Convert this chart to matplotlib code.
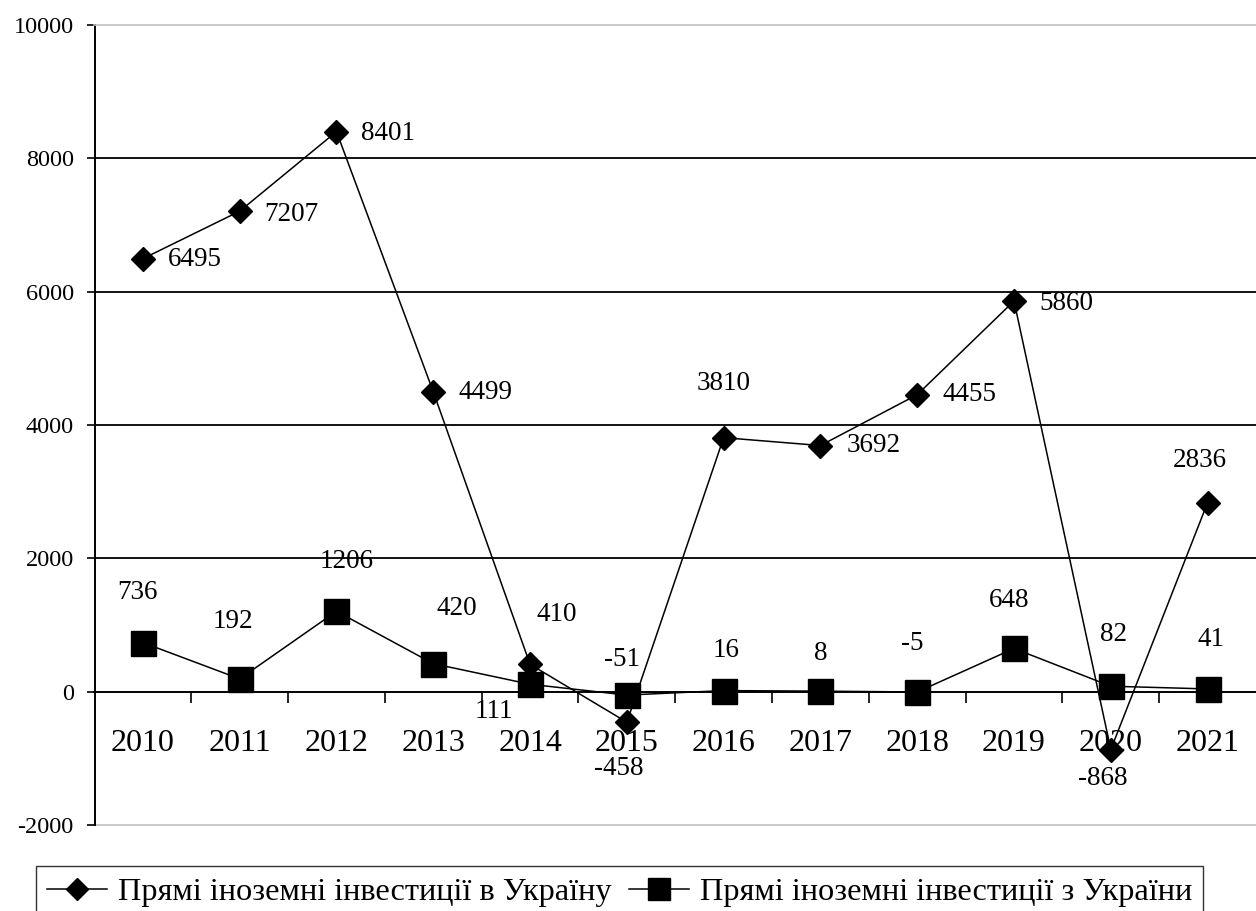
import numpy as np
import matplotlib
matplotlib.use("Agg")
import matplotlib.pyplot as plt
from matplotlib.lines import Line2D

# Data: foreign direct investment flows, USD mln
years = ["2010", "2011", "2012", "2013", "2014", "2015",
         "2016", "2017", "2018", "2019", "2020", "2021"]
fdi_in = [6495, 7207, 8401, 4499, 410, -458, 3810, 3692, 4455, 5860, -868, 2836]
fdi_out = [736, 192, 1206, 420, 111, -51, 16, 8, -5, 648, 82, 41]
y_ticks = [-2000, 0, 2000, 4000, 6000, 8000, 10000]
series_names = ["Прямі іноземні інвестиції в Україну",
                "Прямі іноземні інвестиції з України"]

# Value-label placement: (horizontal alignment, dx px, dy px; dy positive = down)
in_label_pos = [("left", 25, 1), ("left", 25, 3), ("left", 25, 2), ("left", 25, 1),
                ("center", 27, -50), ("center", -8, 46), ("center", 0, -54),
                ("left", 26, 0), ("left", 25, 0), ("left", 25, 2),
                ("center", -8, 29), ("center", -8, -42)]
out_label_pos = [("center", -5, -50), ("center", -7, -57), ("center", 10, -50),
                 ("center", 24, -55), ("center", -36, 27), ("center", -5, -36),
                 ("center", 2, -40), ("center", 0, -38), ("center", -5, -48),
                 ("center", -5, -48), ("center", 3, -52), ("center", 3, -49)]

plt.rcParams['font.family'] = ['Liberation Serif', 'DejaVu Serif']

W, H = 1256, 911
fig = plt.figure(figsize=(W / 100, H / 100), dpi=100)
left, right, top, bottom = 94.5, 1256, 25, 825
ax = fig.add_axes([left / W, 1 - bottom / H, (right - left) / W, (bottom - top) / H])

x = np.arange(len(years))
ax.set_xlim(-0.5, len(years) - 0.5)
ax.set_ylim(y_ticks[0], y_ticks[-1])

# horizontal gridlines
for v in y_ticks:
    if v not in (y_ticks[0], y_ticks[-1], 0):
        ax.axhline(v, color="black", lw=1.3, zorder=1)
ax.axhline(y_ticks[0], color="#c0c0c0", lw=1.2, zorder=1, clip_on=False)

# spines
ax.spines["right"].set_visible(False)
ax.spines["top"].set_color("#c0c0c0")
ax.spines["top"].set_linewidth(1.2)
ax.spines["left"].set_linewidth(1.4)
ax.spines["bottom"].set_position(("data", 0))
ax.spines["bottom"].set_linewidth(1.4)

# y axis
ax.set_yticks(y_ticks)
ax.set_yticklabels([str(v) for v in y_ticks])
ax.tick_params(axis="y", direction="out", length=6, width=1.2, pad=9, labelsize=17.5)

# x axis: labels at category centres, tick marks at category boundaries
ax.set_xticks(x)
ax.set_xticklabels(years)
ax.set_xticks(np.arange(0.5, len(years) - 1, 1), minor=True)
ax.tick_params(axis="x", which="major", length=0, pad=27, labelsize=23)
ax.tick_params(axis="x", which="minor", direction="out", length=8, width=1.2)

# series
ax.plot(x, fdi_in, color="black", lw=1.1, marker="D", ms=12.7,
        zorder=3, clip_on=False)
ax.plot(x, fdi_out, color="black", lw=1.1, marker="s", ms=18,
        zorder=3, clip_on=False)

# value labels
for xi, v, (ha, dx, dy) in zip(x, fdi_in, in_label_pos):
    ax.annotate(str(v), (xi, v), xytext=(dx, -dy), textcoords="offset pixels",
                ha=ha, va="center", fontsize=19.5, zorder=4)
for xi, v, (ha, dx, dy) in zip(x, fdi_out, out_label_pos):
    ax.annotate(str(v), (xi, v), xytext=(dx, -dy), textcoords="offset pixels",
                ha=ha, va="center", fontsize=19.5, zorder=4)

# legend
handles = [Line2D([], [], color="black", lw=1.1, marker="D", ms=11.7),
           Line2D([], [], color="black", lw=1.1, marker="s", ms=16)]
leg = fig.legend(handles, series_names, loc="upper left",
                 bbox_to_anchor=(36 / W, 1 - 866 / H), ncol=2, fontsize=23.3,
                 frameon=True, fancybox=False, edgecolor="black",
                 borderpad=0.35, handlelength=1.85, handletextpad=0.33,
                 columnspacing=0.55, borderaxespad=0)
leg.get_frame().set_linewidth(1.0)

fig.savefig("out.png", dpi=100)
